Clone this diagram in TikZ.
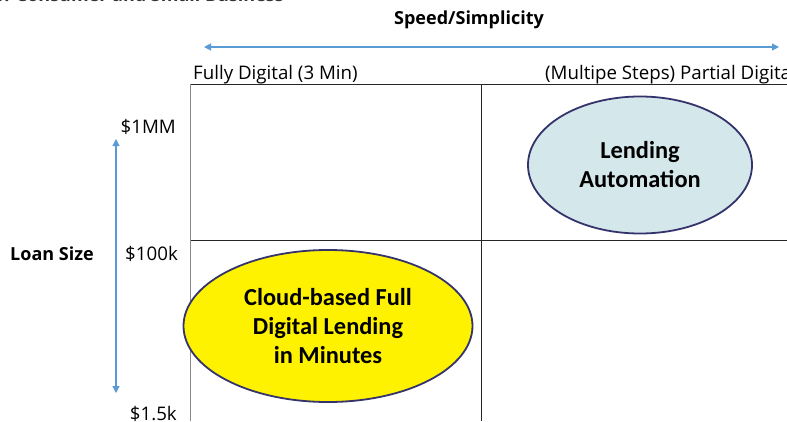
\documentclass[tikz,border=0pt]{standalone}
\usepackage{fontspec}
\setmainfont{Carlito}
\newfontfamily\labelfont{Open Sans}
\usetikzlibrary{shapes.geometric,arrows.meta}
\definecolor{axisblue}{HTML}{5B9BD5}
\definecolor{rimnavy}{HTML}{34336B}
\definecolor{paleteal}{HTML}{D4E7EA}
\definecolor{gridgray}{HTML}{8A8A8A}
\tikzset{
  axisarrow/.style={draw=axisblue, line width=1.2pt, {Triangle[length=7pt,width=7pt]}-{Triangle[length=7pt,width=7pt]}},
  gridline/.style={draw=black!85, line width=1pt},
  ticklabel/.style={font=\labelfont\fontsize{18.7}{21}\selectfont, inner sep=0pt},
  axistitle/.style={font=\labelfont\fontsize{18}{20}\selectfont\bfseries, inner sep=0pt},
  bubble/.style={ellipse, draw=rimnavy, line width=1.8pt, inner sep=0pt, align=center,
    font=\fontsize{24.4}{29}\selectfont\bfseries}
}
\begin{document}
\begin{tikzpicture}[x=1pt, y=-1pt]
\useasboundingbox (0,0) rectangle (787,421);
% section heading, mostly above the page edge
\node[anchor=base west, inner sep=0pt, font=\labelfont\fontsize{18}{20}\selectfont\bfseries, text=black!80] (heading) at (-6,1) {1. Consumer and Small Business};

% horizontal axis
\node[axistitle] (speed) at (469,20) {Speed/Simplicity};
\coordinate (hl) at (204,47);
\coordinate (hr) at (779,47);
\draw[axisarrow] (hl) -- (hr);
\node[ticklabel, anchor=base west] (fast) at (193,79) {Fully Digital (3 Min)};
\node[ticklabel, anchor=base west] (slow) at (545,79) {(Multipe Steps) Partial Digital};

% vertical axis
\node[axistitle, anchor=west] (loan) at (10,254) {Loan Size};
\coordinate (vt) at (116,139);
\coordinate (vb) at (116,393);
\draw[axisarrow] (vb) -- (vt);
\node[ticklabel, anchor=base east] (big) at (176,133) {\$1MM};
\node[ticklabel, anchor=base east] (mid) at (178,260) {\$100k};
\node[ticklabel, anchor=base east] (small) at (177,420) {\$1.5k};

% quadrant grid
\coordinate (gtl) at (190,84);
\coordinate (gtr) at (787,84);
\coordinate (gml) at (190,240);
\coordinate (gmr) at (787,240);
\coordinate (gbl) at (190,421);
\coordinate (gtm) at (481,84);
\coordinate (gbm) at (481,421);
\draw[gridline] (gtl) -- (gtr);
\draw[gridline] (gml) -- (gmr);
\draw[gridline] (gtm) -- (gbm);
\draw[draw=gridgray, line width=1pt] (gtl) -- (gbl);

% bubbles
\node[bubble, fill=paleteal, minimum width=224pt, minimum height=137pt] (auto) at (640,165) {Lending\\Automation};
\node[bubble, fill=yellow, minimum width=289pt, minimum height=152pt] (cloud) at (328,326) {Cloud-based Full\\Digital Lending\\in Minutes};
\end{tikzpicture}
\end{document}
